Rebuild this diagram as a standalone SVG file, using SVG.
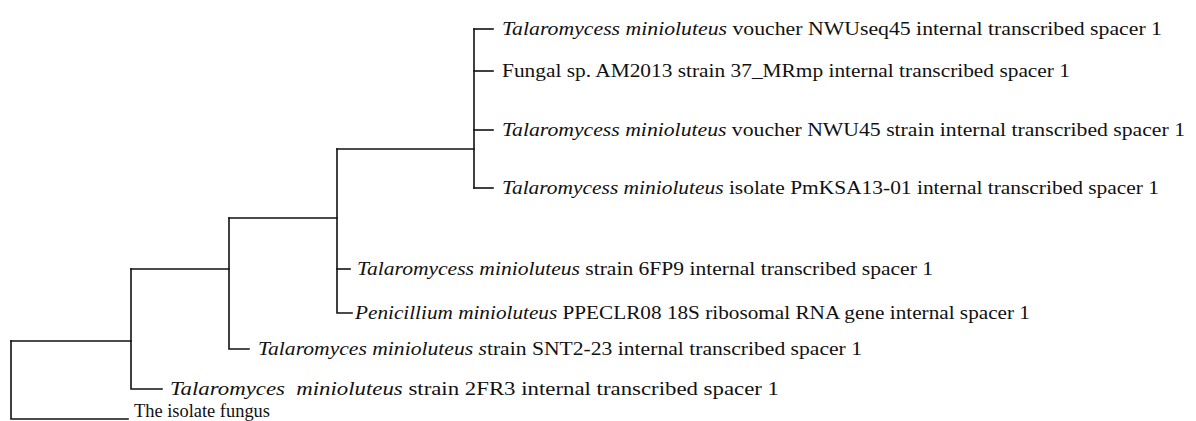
<svg xmlns="http://www.w3.org/2000/svg" width="1196" height="421" viewBox="0 0 1196 421">
<style>
.br{fill:none;stroke:#111;stroke-width:1.6;stroke-linecap:square}
.t{font-family:'Liberation Serif','Times New Roman','DejaVu Serif',serif;font-size:18px;fill:#111}
.i{font-style:italic}
</style>
<rect width="1196" height="421" fill="#fff"/>
<g id="connectors">
<path class="br" d="M11,341 V419 H128"/>
<path class="br" d="M11,341 H131 V389 H162"/>
<path class="br" d="M131,269 V341"/>
<path class="br" d="M131,269 H229 V349 H249"/>
<path class="br" d="M229,218 V269"/>
<path class="br" d="M229,218 H337 V313 H352"/>
<path class="br" d="M337,269 H350"/>
<path class="br" d="M337,149 V218"/>
<path class="br" d="M337,149 H474"/>
<path class="br" d="M474,29 V188"/>
<path class="br" d="M474,29 H493"/>
<path class="br" d="M474,71 H493"/>
<path class="br" d="M474,130 H493"/>
<path class="br" d="M474,188 H493"/>
</g>
<g id="leaf1"><text class="t" x="502" y="35" textLength="660" lengthAdjust="spacingAndGlyphs"><tspan class="i">Talaromycess minioluteus</tspan> voucher NWUseq45 internal transcribed spacer 1</text></g>
<g id="leaf2"><text class="t" x="502" y="77" textLength="568" lengthAdjust="spacingAndGlyphs">Fungal sp. AM2013 strain 37_MRmp internal transcribed spacer 1</text></g>
<g id="leaf3"><text class="t" x="502" y="136" textLength="683" lengthAdjust="spacingAndGlyphs"><tspan class="i">Talaromycess minioluteus</tspan> voucher NWU45 strain internal transcribed spacer 1</text></g>
<g id="leaf4"><text class="t" x="502" y="194" textLength="657" lengthAdjust="spacingAndGlyphs"><tspan class="i">Talaromycess minioluteus</tspan> isolate PmKSA13-01 internal transcribed spacer 1</text></g>
<g id="leaf5"><text class="t" x="357" y="275" textLength="576" lengthAdjust="spacingAndGlyphs"><tspan class="i">Talaromycess minioluteus</tspan> strain 6FP9 internal transcribed spacer 1</text></g>
<g id="leaf6"><text class="t" x="355" y="319" textLength="675" lengthAdjust="spacingAndGlyphs"><tspan class="i">Penicillium minioluteus</tspan> PPECLR08 18S ribosomal RNA gene internal spacer 1</text></g>
<g id="leaf7"><text class="t" x="258" y="355" textLength="604" lengthAdjust="spacingAndGlyphs"><tspan class="i">Talaromyces minioluteus s</tspan>train SNT2-23 internal transcribed spacer 1</text></g>
<g id="leaf8"><text class="t" x="170" y="395" textLength="609" lengthAdjust="spacingAndGlyphs" xml:space="preserve"><tspan class="i">Talaromyces  minioluteus</tspan> strain 2FR3 internal transcribed spacer 1</text></g>
<g id="leaf9"><text class="t" x="134" y="417" textLength="136" lengthAdjust="spacingAndGlyphs">The isolate fungus</text></g>
</svg>
